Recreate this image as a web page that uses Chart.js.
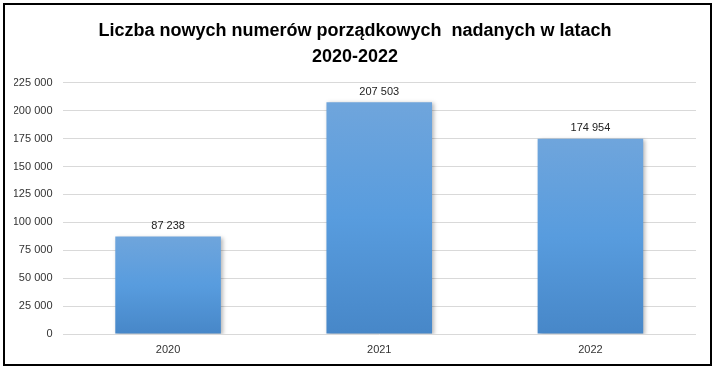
<!DOCTYPE html>
<html>
<head>
<meta charset="utf-8">
<script src="https://cdn.jsdelivr.net/npm/chart.js@4.4.1/dist/chart.umd.min.js"></script>
<style>
  body { margin: 0; background: #fff; }
  #box {
    position: absolute; left: 3px; top: 3px;
    width: 705px; height: 359px;
    border: 2px solid #000; background: #fff;
  }
</style>
</head>
<body>
<div id="box"><canvas id="chart" width="705" height="359"></canvas></div>
<script>
// ------------------------
// DATA
// ------------------------

const years = ['2020', '2021', '2022']
const newNumbers = [87238, 207503, 174954]
const titleLines = ['Liczba nowych numerów porządkowych  nadanych w latach', '2020-2022']

const yMax = 225000
const yStep = 25000

// "207 503" style numbers
function fmt(v) {
  return String(v).replace(/\B(?=(\d{3})+(?!\d))/g, ' ')
}

// gradient for each bar, light on top, darker at the base
function barColor(ctx) {
  const chart = ctx.chart
  const y = chart.scales.y
  if (!chart.chartArea || !y || ctx.dataIndex === undefined) return '#5a9be0'
  const top = y.getPixelForValue(ctx.raw)
  const bottom = y.getPixelForValue(0)
  if (!isFinite(top) || !isFinite(bottom) || top === bottom) return '#5a9be0'
  const g = chart.ctx.createLinearGradient(0, top, 0, bottom)
  g.addColorStop(0, '#6fa5dc')
  g.addColorStop(0.5, '#589cde')
  g.addColorStop(1, '#4787c8')
  return g
}

// little shadow behind the bars
const barShadow = {
  id: 'barShadow',
  beforeDatasetsDraw(chart) {
    const c = chart.ctx
    c.save()
    c.shadowColor = 'rgba(0,0,0,0.28)'
    c.shadowBlur = 4
    c.shadowOffsetX = 2
    c.shadowOffsetY = 1
  },
  afterDatasetsDraw(chart) {
    chart.ctx.restore()
  }
}

// value labels over the bars
const valueLabels = {
  id: 'valueLabels',
  afterDatasetsDraw(chart) {
    const c = chart.ctx
    const meta = chart.getDatasetMeta(0)
    c.save()
    c.font = '11px "Liberation Sans", Arial, sans-serif'
    c.fillStyle = '#222'
    c.textAlign = 'center'
    c.textBaseline = 'bottom'
    meta.data.forEach((bar, i) => {
      c.fillText(fmt(newNumbers[i]), bar.x, bar.y - 5)
    })
    c.restore()
  }
}

// ------------------------
// BAR CHART
// ------------------------

const chartData = {
  labels: years,
  datasets: [{
    data: newNumbers,
    backgroundColor: barColor,
    borderWidth: 0,
    categoryPercentage: 1,
    barPercentage: 0.5
  }]
}

const chartOptions = {
  responsive: false,
  animation: false,
  layout: {
    padding: { left: 9, right: 14, top: 0, bottom: 0 }
  },
  scales: {
    x: {
      grid: { display: false, drawTicks: false },
      border: { display: false },
      ticks: {
        color: '#333',
        padding: 9,
        font: { family: '"Liberation Sans", Arial, sans-serif', size: 11 }
      },
      afterFit(scale) { scale.height = 30 }
    },
    y: {
      min: 0,
      max: yMax,
      grid: { color: '#d9d9d9', lineWidth: 1, drawTicks: false },
      border: { display: false },
      ticks: {
        stepSize: yStep,
        color: '#333',
        padding: 10,
        font: { family: '"Liberation Sans", Arial, sans-serif', size: 11 },
        callback: v => fmt(v)
      },
      afterFit(scale) { scale.width = 48.5 }
    }
  },
  plugins: {
    legend: { display: false },
    tooltip: { enabled: false },
    title: {
      display: true,
      text: titleLines,
      color: '#000',
      font: { family: '"Liberation Sans", Arial, sans-serif', size: 18, weight: 'bold', lineHeight: 1.44 },
      padding: { top: 13, bottom: 13 }
    }
  }
}

let barChart = new Chart(document.querySelector('#chart'), {
  type: 'bar',
  data: chartData,
  options: chartOptions,
  plugins: [barShadow, valueLabels]
})
</script>
</body>
</html>
